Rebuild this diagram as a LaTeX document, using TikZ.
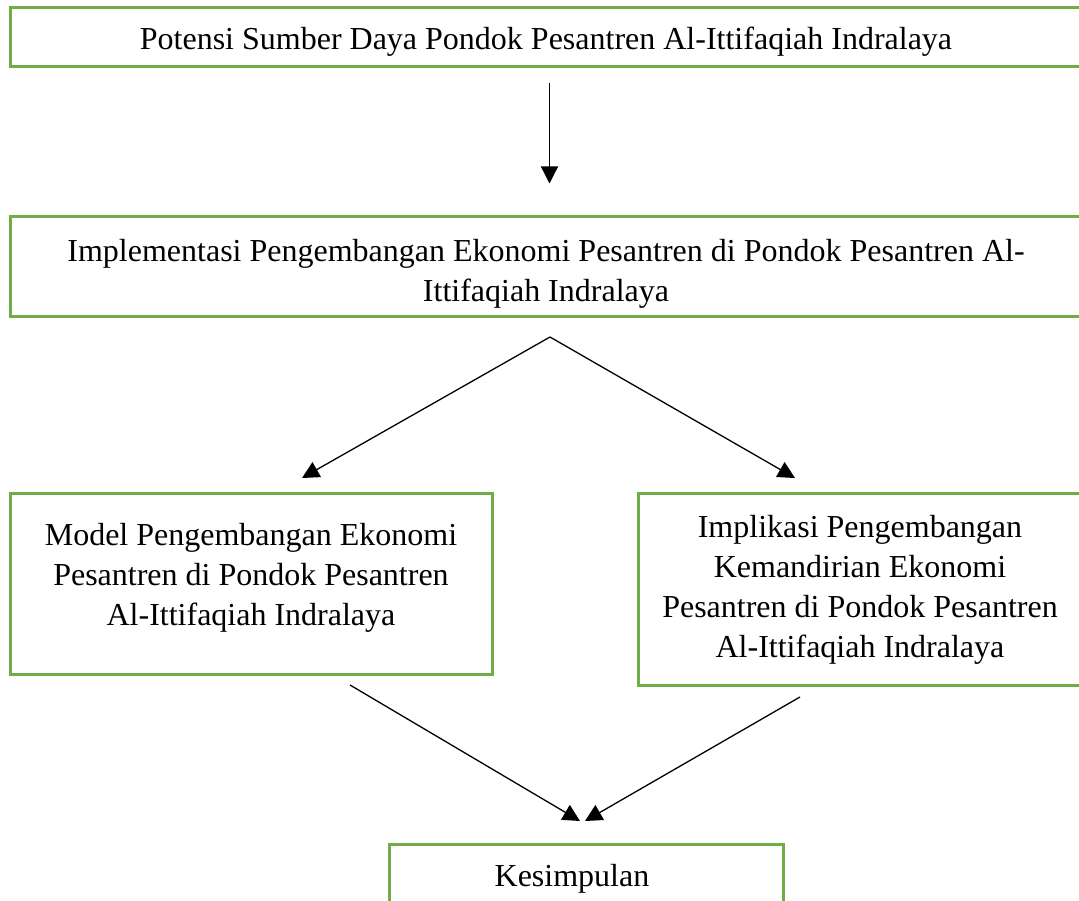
\documentclass[tikz,border=0pt]{standalone}
\usepackage{fontspec}
\setmainfont{Liberation Serif}
\usetikzlibrary{arrows.meta,calc}
\definecolor{boxgreen}{HTML}{70AD47}
\begin{document}
\begin{tikzpicture}[x=1pt,y=-1pt,
  box/.style={draw=boxgreen,line width=3pt,fill=white,inner sep=0pt},
  txt/.style={align=center,inner sep=0pt,font=\fontsize{32}{40}\selectfont},
  conn/.style={draw=black,line width=1.3pt},
  arr/.style={conn,-{Triangle[length=17pt,width=17pt]}}]
\useasboundingbox (0,0) rectangle (1079,901);
\clip (0,0) rectangle (1079,901);
\fill[white] (0,0) rectangle (1079,901);
\node[box,minimum width=1072pt,minimum height=59pt] (b1) at (546,37.5) {};
\node[txt] (t1) at (546,42)
  {Potensi Sumber Daya Pondok Pesantren Al-Ittifaqiah Indralaya};
\node[box,minimum width=1072pt,minimum height=100pt] (b2) at (546,267) {};
\node[txt] (t2) at (546,274)
  {Implementasi Pengembangan Ekonomi Pesantren di Pondok Pesantren Al-\\Ittifaqiah Indralaya};
\node[box,minimum width=482pt,minimum height=181pt] (b3) at (251,583.5) {};
\node[txt] (t3) at (251,577.5)
  {Model Pengembangan Ekonomi\\Pesantren di Pondok Pesantren\\Al-Ittifaqiah Indralaya};
\node[box,minimum width=444pt,minimum height=192pt] (b4) at (860,589) {};
\node[txt] (t4) at (860,589.5)
  {Implikasi Pengembangan\\Kemandirian Ekonomi\\Pesantren di Pondok Pesantren\\Al-Ittifaqiah Indralaya};
\node[box,minimum width=394pt,minimum height=100pt,anchor=north] (b5) at (586,843) {};
\node[txt] (t5) at (572,879) {Kesimpulan};
\draw[arr,shorten <=15pt,shorten >=32pt] ([xshift=3.5pt]b1.south) -- ([xshift=3.5pt]b2.north);
\coordinate (peak) at (550,337);
\coordinate (l3) at (302,478);
\coordinate (r4) at (795,478);
\draw[arr] (peak) -- (l3);
\draw[arr] (peak) -- (r4);
\coordinate (s3) at (350,685);
\coordinate (s4) at (800,697);
\coordinate (e3) at (580,821);
\coordinate (e4) at (585,821);
\draw[arr] (s3) -- (e3);
\draw[arr] (s4) -- (e4);
\end{tikzpicture}
\end{document}
